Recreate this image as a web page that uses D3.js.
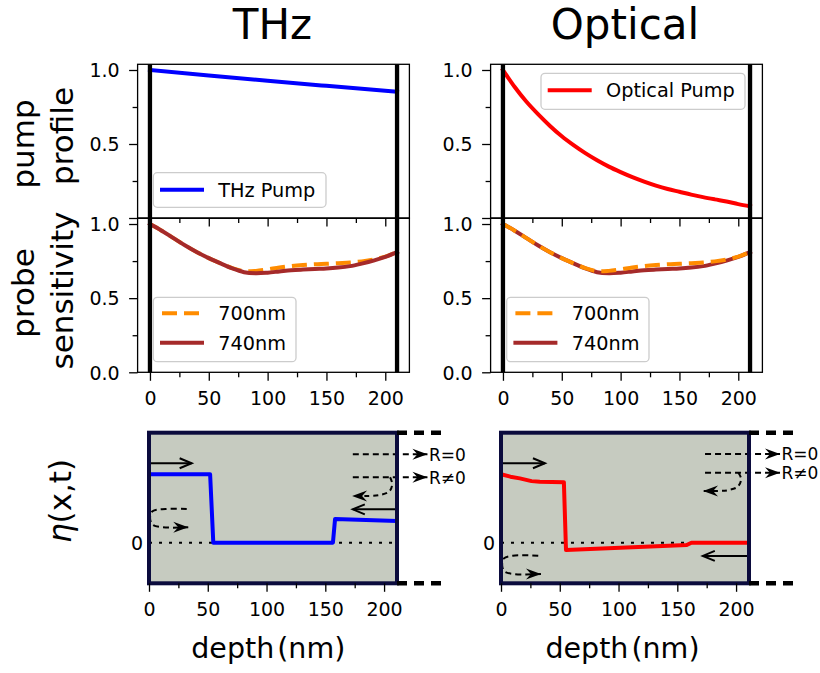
<!DOCTYPE html>
<html><head><meta charset="utf-8">
<script src="https://cdn.jsdelivr.net/npm/d3@7"></script>
<style>body{margin:0;background:#fff} svg{display:block} text{font-family:"DejaVu Sans",sans-serif}</style>
</head><body><svg id="c" width="820" height="673"></svg>
<script>
// ---------------- data ----------------
const panelTitles = ["THz", "Optical"];
const depthTicks = [0, 50, 100, 150, 200];
const depthMinor = [25, 75, 125, 175];
const yTicks = [0, 0.5, 1.0];
const yMinor = [0.25, 0.75];

const thzPumpX = [0, 50, 100, 150, 210];
const thzPumpY = [1.0, 0.963, 0.927, 0.893, 0.853];

const optPumpX = [0,10,20,30,40,50,60,70,80,90,100,110,120,130,140,150,160,170,180,190,200,210];
const optPumpY = [1.000,0.885,0.785,0.700,0.622,0.552,0.492,0.438,0.390,0.347,0.310,0.276,0.246,0.219,0.196,0.177,0.158,0.141,0.126,0.112,0.094,0.080];

const probeX   = [0,10,20,30,40,50,60,70,80,90,100,110,120,130,140,150,160,170,180,190,200,210];
const probe700 = [1.000,0.955,0.905,0.855,0.810,0.770,0.735,0.702,0.682,0.684,0.695,0.707,0.717,0.724,0.729,0.732,0.736,0.740,0.748,0.760,0.780,0.810];
const probe740 = [1.000,0.955,0.905,0.855,0.810,0.770,0.735,0.700,0.675,0.668,0.672,0.680,0.688,0.693,0.697,0.700,0.706,0.716,0.733,0.753,0.778,0.810];

const etaThzX = [0, 52, 54.7, 156.5, 158.3, 211];
const etaThzY = [1.0, 1.0, 0.0, 0.0, 0.346, 0.317];
const etaOptX = [0, 8, 16, 26, 33, 53.5, 55.3, 158, 162, 211];
const etaOptY = [1.0, 0.965, 0.94, 0.90, 0.89, 0.885, -0.107, -0.034, 0.0, 0.0];

const legendPump = ["THz Pump", "Optical Pump"];
const legendProbe = ["700nm", "740nm"];
const rLabels = ["R=0", "R\u22600"];

// ---------------- helpers ----------------
const svg = d3.select('#c');
const F = '"DejaVu Sans", sans-serif';
const TICKF = 19;

function styleAxis(g, size) {
  g.select('.domain').remove();
  g.selectAll('line').attr('stroke', '#000').attr('stroke-width', 1.3);
  g.selectAll('text').attr('font-family', F).attr('font-size', size || TICKF).attr('fill', '#000');
  return g;
}
function drawLine(g, xs, ys, X, Y, st) {
  g.append('path').datum(X.map((x, i) => [x, Y[i]]))
    .attr('d', d3.line().x(d => xs(d[0])).y(d => ys(d[1])).curve(st.curve || d3.curveLinear))
    .attr('fill', 'none').attr('stroke', st.color).attr('stroke-width', st.w)
    .attr('stroke-linecap', st.cap || 'square').attr('stroke-linejoin', 'round')
    .attr('stroke-dasharray', st.dash || null);
}
function arrow(g, pts, opt) {
  g.append('path').attr('d', d3.line().curve(opt.curve || d3.curveLinear)(pts))
    .attr('fill', 'none').attr('stroke', '#000').attr('stroke-width', opt.w || 2)
    .attr('stroke-dasharray', opt.dash || null);
  const [x1, y1] = pts[pts.length - 1], [x0, y0] = pts[pts.length - 2];
  const a = Math.atan2(y1 - y0, x1 - x0) * 180 / Math.PI;
  const h = g.append('g').attr('transform', `translate(${x1},${y1}) rotate(${a})`);
  if (opt.head === 'filled') {
    h.append('path').attr('d', 'M0,0 L-15,-5.5 L-10,0 L-15,5.5 Z').attr('fill', '#000');
  } else {
    h.append('path').attr('d', 'M-12,-5 L0,0 L-12,5').attr('fill', 'none')
      .attr('stroke', '#000').attr('stroke-width', 2).attr('stroke-linejoin', 'miter');
  }
}

// ---------------- top + middle panels ----------------
const cols = [
  { x0: 137.6, x1: 409.4, pumpX: thzPumpX, pumpY: thzPumpY, pumpColor: '#0000ff', orangeOnTop: false,
    pumpLeg: { x: 153.3, y: 172.7, w: 172.7, h: 34.6 }, probeLeg: { x: 153.3, y: 297.3, w: 142.7, h: 64.4 } },
  { x0: 490.6, x1: 762.4, pumpX: optPumpX, pumpY: optPumpY, pumpColor: '#ff0000', orangeOnTop: true,
    pumpLeg: { x: 541, y: 73.3, w: 204, h: 36 }, probeLeg: { x: 506.7, y: 297.3, w: 142.3, h: 64.4 } }
];
const yTopRange = [218, 64.3], yMidRange = [372.3, 218.3];
const fmt = d3.format('.1f');

cols.forEach((c, ci) => {
  const g = svg.append('g');
  const xs = d3.scaleLinear().domain([-10.5, 220.5]).range([c.x0, c.x1]);
  const yt = d3.scaleLinear().domain([0, 1.0385]).range(yTopRange);
  const ym = d3.scaleLinear().domain([0, 1.0385]).range(yMidRange);

  drawLine(g, xs, yt, c.pumpX, c.pumpY, { color: c.pumpColor, w: 4, curve: d3.curveMonotoneX });
  const o = () => drawLine(g, xs, ym, probeX, probe700, { color: '#ff8c00', w: 4, dash: '15,7', cap: 'butt', curve: d3.curveCatmullRom });
  const b = () => drawLine(g, xs, ym, probeX, probe740, { color: '#a52a2a', w: 4, curve: d3.curveCatmullRom });
  if (c.orangeOnTop) { b(); o(); } else { o(); b(); }

  [0, 210].forEach(v => g.append('line').attr('x1', xs(v)).attr('x2', xs(v))
    .attr('y1', yTopRange[1]).attr('y2', yMidRange[0]).attr('stroke', '#000').attr('stroke-width', 4.3));

  g.append('rect').attr('x', c.x0).attr('y', yTopRange[1]).attr('width', c.x1 - c.x0).attr('height', yTopRange[0] - yTopRange[1])
    .attr('fill', 'none').attr('stroke', '#000').attr('stroke-width', 1.3);
  g.append('rect').attr('x', c.x0).attr('y', yMidRange[1]).attr('width', c.x1 - c.x0).attr('height', yMidRange[0] - yMidRange[1])
    .attr('fill', 'none').attr('stroke', '#000').attr('stroke-width', 1.3);

  styleAxis(g.append('g').attr('transform', `translate(${c.x0},0)`)
    .call(d3.axisLeft(yt).tickValues(yTicks).tickSize(8.5).tickPadding(9.5).tickFormat(d => d === 0 ? '' : fmt(d))));
  styleAxis(g.append('g').attr('transform', `translate(${c.x0},0)`)
    .call(d3.axisLeft(yt).tickValues(yMinor).tickSize(5).tickFormat('')));
  styleAxis(g.append('g').attr('transform', `translate(${c.x0},0)`)
    .call(d3.axisLeft(ym).tickValues(yTicks).tickSize(8.5).tickPadding(9.5).tickFormat(fmt)));
  styleAxis(g.append('g').attr('transform', `translate(${c.x0},0)`)
    .call(d3.axisLeft(ym).tickValues(yMinor).tickSize(5).tickFormat('')));
  g.selectAll('text').attr('dy', '0.36em');

  styleAxis(g.append('g').attr('transform', `translate(0,${yTopRange[0]})`)
    .call(d3.axisBottom(xs).tickValues(depthTicks).tickSize(8.5).tickFormat('')));
  styleAxis(g.append('g').attr('transform', `translate(0,${yTopRange[0]})`)
    .call(d3.axisBottom(xs).tickValues(depthMinor).tickSize(5).tickFormat('')));
  styleAxis(g.append('g').attr('transform', `translate(0,${yMidRange[0]})`)
    .call(d3.axisBottom(xs).tickValues(depthTicks).tickSize(8.5).tickPadding(10.7).tickFormat(d => d)));
  styleAxis(g.append('g').attr('transform', `translate(0,${yMidRange[0]})`)
    .call(d3.axisBottom(xs).tickValues(depthMinor).tickSize(5).tickFormat('')));

  const legBox = L => g.append('rect').attr('x', L.x).attr('y', L.y).attr('width', L.w).attr('height', L.h)
    .attr('rx', 4).attr('fill', '#fff').attr('fill-opacity', 0.8).attr('stroke', '#cccccc').attr('stroke-width', 1.3);
  const P = c.pumpLeg;
  legBox(P);
  g.append('line').attr('x1', P.x + 8.7).attr('x2', P.x + 48.7).attr('y1', P.y + 17).attr('y2', P.y + 17)
    .attr('stroke', c.pumpColor).attr('stroke-width', 4).attr('stroke-linecap', 'square');
  g.append('text').attr('x', P.x + 65).attr('y', P.y + 24).attr('font-size', 19.3).text(legendPump[ci]);
  const Q = c.probeLeg;
  legBox(Q);
  g.append('line').attr('x1', Q.x + 8.7).attr('x2', Q.x + 48.7).attr('y1', Q.y + 16).attr('y2', Q.y + 16)
    .attr('stroke', '#ff8c00').attr('stroke-width', 4).attr('stroke-dasharray', '15,7');
  g.append('text').attr('x', Q.x + 65).attr('y', Q.y + 23).attr('font-size', 19.3).text(legendProbe[0]);
  g.append('line').attr('x1', Q.x + 8.7).attr('x2', Q.x + 48.7).attr('y1', Q.y + 45.4).attr('y2', Q.y + 45.4)
    .attr('stroke', '#a52a2a').attr('stroke-width', 4).attr('stroke-linecap', 'square');
  g.append('text').attr('x', Q.x + 65).attr('y', Q.y + 52.4).attr('font-size', 19.3).text(legendProbe[1]);
});

// ---------------- bottom panels ----------------
const bottom = [
  { r0: 149, etaX: etaThzX, etaY: etaThzY, color: '#0000ff',
    topArrow: [[0, 1.161], [36.3, 1.161]],
    loop: [[32.1, 0.493], [14, 0.493], [3, 0.46], [0.9, 0.36], [3, 0.265], [12, 0.225], [33.4, 0.225]],
    r0y: 1.292, rny: 0.956, rx: [173.4, 236.9],
    rCurve: [[205.1, 0.956], [206.9, 0.86], [204.5, 0.75], [196, 0.695], [184, 0.683], [172.8, 0.683]],
    backArrow: [[211, 0.488], [173.4, 0.488]] },
  { r0: 501, etaX: etaOptX, etaY: etaOptY, color: '#ff0000',
    topArrow: [[1.5, 1.161], [37.4, 1.161]],
    loop: [[31.7, -0.19], [10, -0.19], [2.5, -0.23], [1.0, -0.33], [3, -0.42], [11, -0.458], [34, -0.458]],
    r0y: 1.297, rny: 1.023, rx: [173.6, 237.4],
    rCurve: [[202, 1.023], [204.3, 0.93], [201.5, 0.82], [193, 0.767], [183.8, 0.756], [171.9, 0.756]],
    backArrow: [[211, -0.194], [171.7, -0.194]] }
];
const etaLimits = [-0.594, 1.608];

bottom.forEach((b, bi) => {
  const g = svg.append('g');
  const bx = d3.scaleLinear().domain([0, 211]).range([b.r0, b.r0 + 248]);
  const by = d3.scaleLinear().domain(etaLimits).range([583.3, 432.7]);

  g.append('rect').attr('x', bx(0)).attr('y', by(etaLimits[1])).attr('width', bx(211) - bx(0))
    .attr('height', by(etaLimits[0]) - by(etaLimits[1])).attr('fill', '#c6cbc0');
  g.append('line').attr('x1', bx(0)).attr('x2', bx(211)).attr('y1', by(0)).attr('y2', by(0))
    .attr('stroke', '#000').attr('stroke-width', 2).attr('stroke-dasharray', '3,7');

  const P = pts => pts.map(p => [bx(p[0]), by(p[1])]);
  arrow(g, P(b.topArrow), { head: 'open' });
  arrow(g, P(b.loop), { head: 'filled', dash: '6,4', curve: d3.curveCatmullRom });
  arrow(g, P([[b.rx[0], b.r0y], [b.rx[1], b.r0y]]), { head: 'filled', dash: '6,4' });
  arrow(g, P([[b.rx[0], b.rny], [b.rx[1], b.rny]]), { head: 'filled', dash: '6,4' });
  arrow(g, P(b.rCurve), { head: 'filled', dash: '5,4', curve: d3.curveCatmullRom });
  arrow(g, P(b.backArrow), { head: 'open' });

  g.append('text').attr('x', bx(b.rx[1]) + 1.5).attr('y', by(b.r0y) + 6.3).attr('font-size', 17).text(rLabels[0]);
  g.append('text').attr('x', bx(b.rx[1]) + 1.5).attr('y', by(b.rny) + 6.3).attr('font-size', 17).text(rLabels[1]);

  drawLine(g, bx, by, b.etaX, b.etaY, { color: b.color, w: 4, cap: 'butt' });

  g.append('rect').attr('x', bx(0)).attr('y', by(etaLimits[1])).attr('width', bx(211) - bx(0))
    .attr('height', by(etaLimits[0]) - by(etaLimits[1])).attr('fill', 'none')
    .attr('stroke', '#0b0b3d').attr('stroke-width', 4);
  etaLimits.forEach(v => g.append('line').attr('x1', bx(211)).attr('x2', bx(252))
    .attr('y1', by(v)).attr('y2', by(v)).attr('stroke', '#000').attr('stroke-width', 4.5).attr('stroke-dasharray', '10,7'));

  styleAxis(g.append('g').attr('transform', `translate(0,${by(etaLimits[0])})`)
    .call(d3.axisBottom(bx).tickValues(depthTicks).tickSize(8.5).tickPadding(11.2).tickFormat(d => d)));
  styleAxis(g.append('g').attr('transform', `translate(0,${by(etaLimits[0])})`)
    .call(d3.axisBottom(bx).tickValues(depthMinor).tickSize(5).tickFormat('')));
  g.append('text').attr('x', bx(0) - 6).attr('y', by(0) + 7).attr('text-anchor', 'end')
    .attr('font-size', TICKF).text('0');

  const lab = g.append('text').attr('x', bi === 0 ? 268.3 : 622.5).attr('y', 658).attr('text-anchor', 'middle')
    .attr('font-size', 28.5);
  lab.append('tspan').text('depth');
  lab.append('tspan').attr('dx', 3).text('(nm)');
});

// ---------------- titles & y labels ----------------
svg.append('text').attr('x', 272.5).attr('y', 39).attr('text-anchor', 'middle').attr('font-size', 42).text(panelTitles[0]);
svg.append('text').attr('x', 625).attr('y', 39).attr('text-anchor', 'middle').attr('font-size', 42).text(panelTitles[1]);

function vtext(x, y, str, size) {
  return svg.append('text').attr('transform', `translate(${x},${y}) rotate(-90)`)
    .attr('text-anchor', 'middle').attr('font-size', size).text(str);
}
vtext(33.5, 144, 'pump', 31);
vtext(73, 136, 'profile', 31);
vtext(33.5, 293, 'probe', 31);
vtext(73, 290.5, 'sensitivity', 31);
const eta = svg.append('text').attr('transform', 'translate(71,501) rotate(-90)')
  .attr('text-anchor', 'middle').attr('font-size', 31);
eta.append('tspan').attr('font-style', 'italic').text('\u03b7');
eta.append('tspan').text('(x,t)');
</script>
</body></html>
